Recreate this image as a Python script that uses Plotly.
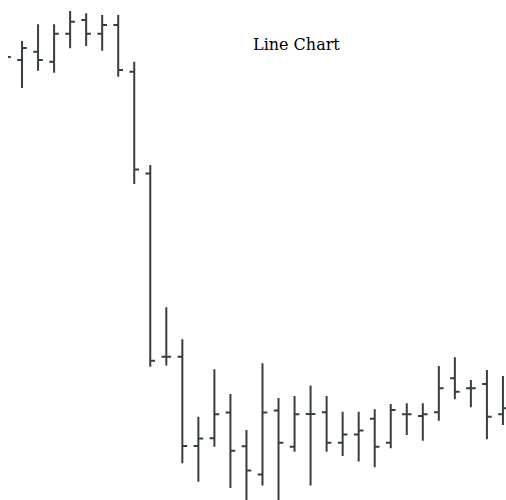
import plotly.graph_objects as go

days = list(range(32))
opens = [64.4, 64.0, 64.83, 63.83, 66.63, 68.0, 66.63, 67.5, 62.83, 52.65,
         34.33, 34.33, 25.4, 26.17, 28.75, 25.37, 22.55, 28.95, 25.33, 28.6,
         28.77, 25.73, 26.55, 28.13, 25.73, 28.57, 28.4, 28.77, 32.17, 31.17,
         31.6, 28.57]
highs = [65.0, 65.9, 67.57, 67.57, 68.9, 68.67, 68.5, 68.5, 63.83, 53.5,
         39.27, 36.08, 28.32, 33.08, 30.6, 27.0, 33.67, 30.2, 30.4, 31.45,
         30.4, 28.83, 28.83, 29.07, 29.6, 29.67, 29.67, 33.4, 34.27, 32.0,
         33.0, 32.4]
lows = [63.5, 61.2, 62.93, 62.73, 65.17, 65.4, 64.93, 62.33, 51.6, 33.33,
        33.45, 23.67, 21.83, 25.33, 21.2, 19.8, 21.45, 19.8, 24.83, 21.45,
        24.83, 24.4, 23.85, 23.27, 25.17, 26.5, 25.93, 27.93, 30.07, 29.27,
        26.07, 27.5]
closes = [64.3, 65.2, 64.0, 66.63, 67.83, 66.63, 67.5, 63.0, 53.05, 33.93,
          34.33, 25.4, 26.15, 28.58, 24.93, 22.95, 28.75, 25.73, 28.58, 28.6,
          25.73, 26.55, 26.95, 25.33, 29.0, 28.57, 28.57, 31.17, 30.83, 31.17,
          28.33, 29.17]

bar_color = "#344040"

fig = go.Figure(go.Ohlc(
    x=days, open=opens, high=highs, low=lows, close=closes,
    increasing=dict(line=dict(color=bar_color, width=2)),
    decreasing=dict(line=dict(color=bar_color, width=2)),
    tickwidth=0.3,
    showlegend=False,
    hoverinfo="skip",
))

fig.update_layout(
    width=506, height=500,
    margin=dict(l=8, r=0, t=0, b=0),
    paper_bgcolor="white", plot_bgcolor="white",
    xaxis=dict(range=[0.125, 31.19], visible=False, rangeslider=dict(visible=False)),
    yaxis=dict(range=[20, 70], visible=False),
    annotations=[dict(
        text="Line Chart", xref="paper", yref="paper", x=0.58, y=0.91,
        xanchor="center", yanchor="middle", showarrow=False,
        font=dict(family="DejaVu Serif, Liberation Serif, serif", size=16, color="black"),
    )],
)

fig.write_html("out.html", config={"displayModeBar": False},
               post_script="document.body.style.margin='0';")
